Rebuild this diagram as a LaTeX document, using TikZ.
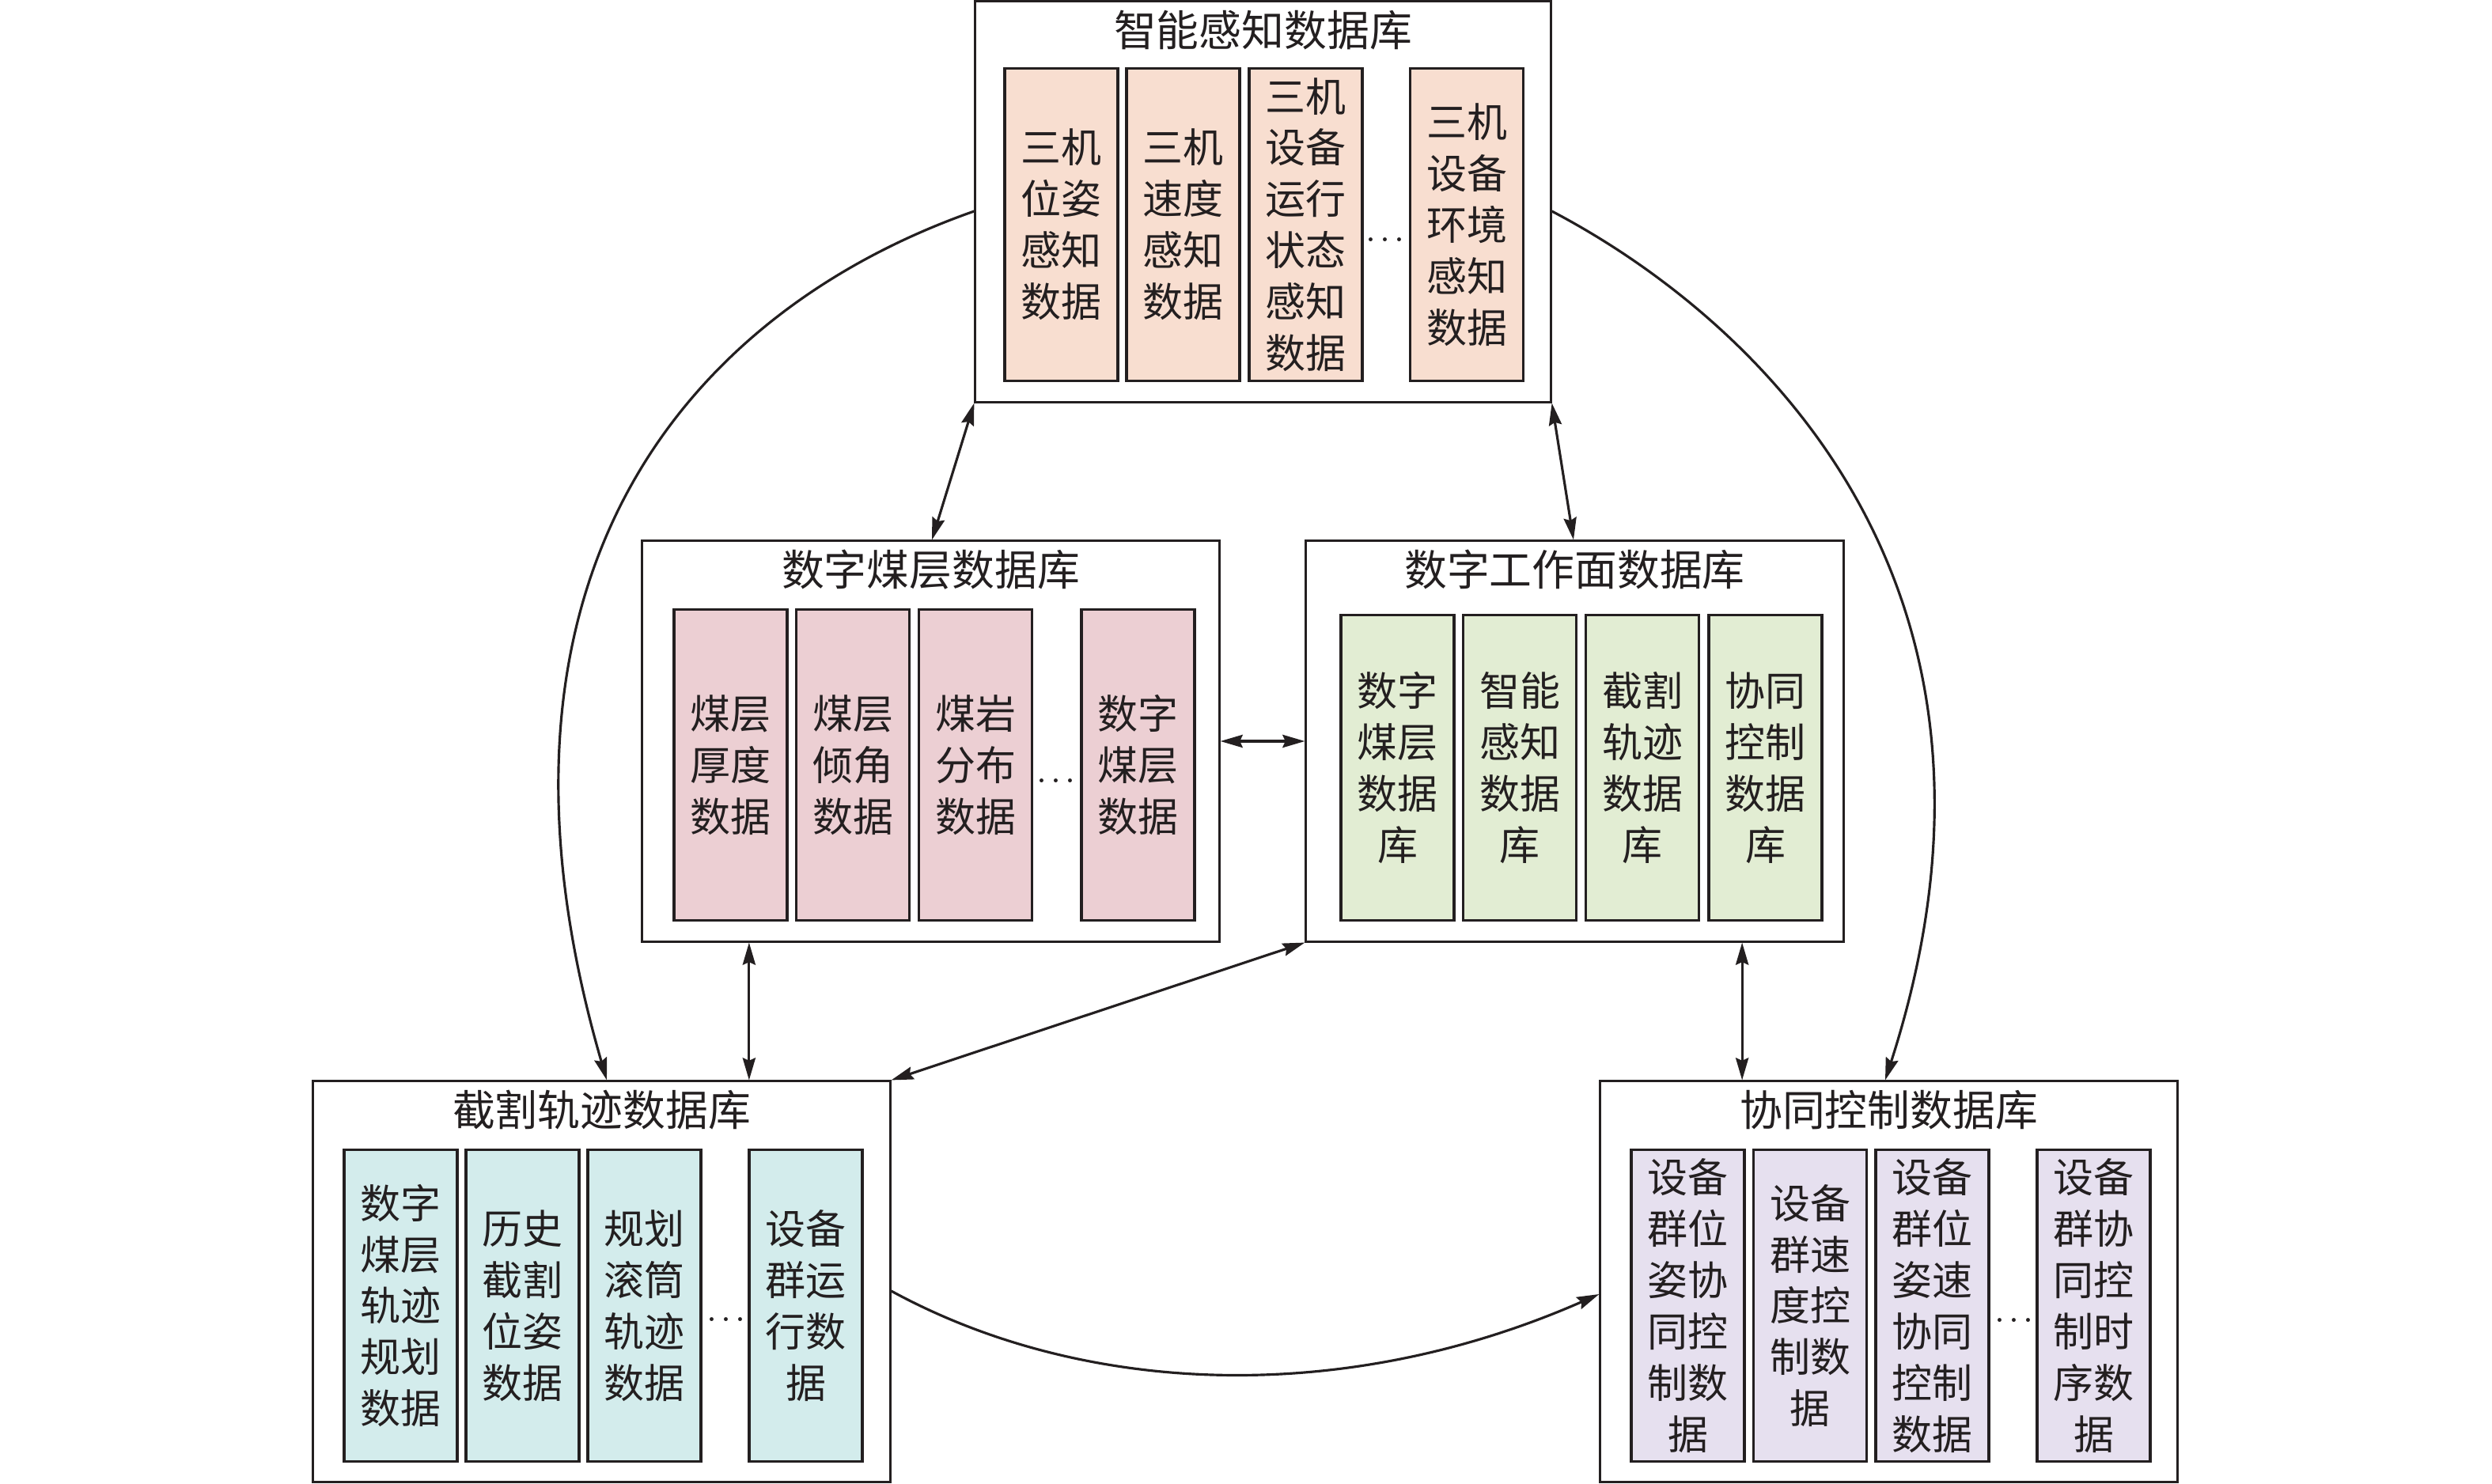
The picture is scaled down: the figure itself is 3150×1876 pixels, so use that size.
\documentclass[tikz,border=0pt]{standalone}
\usepackage{fontspec}
\newfontfamily\cjk{Noto Sans CJK SC}
\usetikzlibrary{arrows.meta,calc}
\definecolor{ink}{RGB}{35,31,32}
\definecolor{cpeach}{RGB}{248,222,208}
\definecolor{cpink}{RGB}{236,207,211}
\definecolor{cgreen}{RGB}{226,237,211}
\definecolor{cteal}{RGB}{211,236,236}
\definecolor{clav}{RGB}{230,224,239}
\newcommand{\mydots}{.\hspace{0.9pt}.\hspace{0.9pt}.}
\begin{document}
\begin{tikzpicture}[x=0.01cm,y=-0.01cm,
  outerbox/.style={draw=ink,line width=0.8pt,fill=white,inner sep=0pt,minimum height=5.06cm},
  boxtitle/.style={text=ink,inner sep=0pt,font=\cjk\fontsize{15.3}{18}\selectfont},
  cell/.style={draw=ink,line width=0.9pt,inner sep=0pt,minimum width=1.43cm,align=center,text=ink,
    font=\cjk\fontsize{14.5}{18.45}\selectfont},
  dotsnode/.style={anchor=base,inner sep=0pt,text=ink,font=\fontsize{17}{18}\selectfont},
  link/.style={draw=ink,line width=0.9pt,{Stealth[length=8pt,width=4.6pt,inset=1pt]}-{Stealth[length=8pt,width=4.6pt,inset=1pt]}},
  flow/.style={draw=ink,line width=0.9pt,-{Stealth[length=8pt,width=4.6pt,inset=1pt]}}]
\useasboundingbox (0,0) rectangle (3150,1876);

% ---- outer boxes
\node[outerbox,minimum width=7.27cm] (top) at (1596.5,255) {};
\node[outerbox,minimum width=7.29cm] (mc)  at (1176.5,937) {};
\node[outerbox,minimum width=6.79cm] (gzm) at (1990.5,937) {};
\node[outerbox,minimum width=7.29cm] (jg)  at (760.5,1620) {};
\node[outerbox,minimum width=7.29cm] (xt)  at (2387.5,1620) {};

% ---- titles
\node[boxtitle] (ttop) at (1596.5,38) {智能感知数据库};
\node[boxtitle] (tmc)  at (1176.5,720) {数字煤层数据库};
\node[boxtitle] (tgzm) at (1990.5,720) {数字工作面数据库};
\node[boxtitle] (tjg)  at (760.5,1403) {截割轨迹数据库};
\node[boxtitle] (txt)  at (2387.5,1403) {协同控制数据库};

% ---- 智能感知 cells
\begin{scope}[every node/.append style={fill=cpeach,minimum height=3.94cm}]
\node[cell] (p1) at (1341.5,284) {三机\\位姿\\感知\\数据};
\node[cell] (p2) at (1495.5,284) {三机\\速度\\感知\\数据};
\node[cell] (p3) at (1650.5,284) {三机\\设备\\运行\\状态\\感知\\数据};
\node[cell] (p4) at (1854,284) {三机\\设备\\环境\\感知\\数据};
\end{scope}
\node[dotsnode] (pd) at (1751,306) {\mydots};

% ---- 数字煤层 cells
\begin{scope}[every node/.append style={fill=cpink,minimum height=3.92cm}]
\node[cell] (m1) at (923.5,967) {煤层\\厚度\\数据};
\node[cell] (m2) at (1078,967) {煤层\\倾角\\数据};
\node[cell] (m3) at (1233,967) {煤岩\\分布\\数据};
\node[cell] (m4) at (1438.5,967) {数字\\煤层\\数据};
\end{scope}
\node[dotsnode] (md) at (1335,989) {\mydots};

% ---- 数字工作面 cells
\begin{scope}[every node/.append style={fill=cgreen,minimum height=3.85cm}]
\node[cell] (g1) at (1766.5,970.5) {数字\\煤层\\数据\\库};
\node[cell] (g2) at (1921,970.5) {智能\\感知\\数据\\库};
\node[cell] (g3) at (2076,970.5) {截割\\轨迹\\数据\\库};
\node[cell] (g4) at (2231.5,970.5) {协同\\控制\\数据\\库};
\end{scope}

% ---- 截割轨迹 cells
\begin{scope}[every node/.append style={fill=cteal,minimum height=3.93cm}]
\node[cell] (j1) at (506.5,1650.5) {数字\\煤层\\轨迹\\规划\\数据};
\node[cell] (j2) at (660.5,1650.5) {历史\\截割\\位姿\\数据};
\node[cell] (j3) at (814.5,1650.5) {规划\\滚筒\\轨迹\\数据};
\node[cell] (j4) at (1018.5,1650.5) {设备\\群运\\行数\\据};
\end{scope}
\node[dotsnode] (jd) at (918,1670) {\mydots};

% ---- 协同控制 cells
\begin{scope}[every node/.append style={fill=clav,minimum height=3.93cm}]
\node[cell] (x1) at (2133.5,1650.5) {设备\\群位\\姿协\\同控\\制数\\据};
\node[cell] (x2) at (2288,1650.5) {设备\\群速\\度控\\制数\\据};
\node[cell] (x3) at (2442.5,1650.5) {设备\\群位\\姿速\\协同\\控制\\数据};
\node[cell] (x4) at (2646.5,1650.5) {设备\\群协\\同控\\制时\\序数\\据};
\end{scope}
\node[dotsnode] (xd) at (2546,1671) {\mydots};

% ---- straight double arrows
\draw[link] (top.south west) -- ([xshift=0.015cm]mc.north);
\draw[link] (top.south east) -- ([xshift=-0.015cm]gzm.north);
\draw[link] (mc.east) -- (gzm.west);
\draw[link] ([xshift=-2.295cm]mc.south) -- ([xshift=-2.295cm]mc.south |- jg.north);
\draw[link] ([xshift=2.115cm]gzm.south) -- ([xshift=2.115cm]gzm.south |- xt.north);
\draw[link] (gzm.south west) -- (jg.north east);

% ---- curved one-way arrows
\draw[flow] ([yshift=-0.12cm]top.west) .. controls (875,392) and (580,723) .. ([xshift=0.065cm]jg.north);
\draw[flow] ([yshift=-0.12cm]top.east) .. controls (2200,392) and (2590,723) .. ([xshift=-0.045cm]xt.north);
\draw[flow] ([yshift=-0.12cm]jg.east) .. controls (1374,1767) and (1703,1776) .. ([yshift=-0.16cm]xt.west);
\end{tikzpicture}
\end{document}
